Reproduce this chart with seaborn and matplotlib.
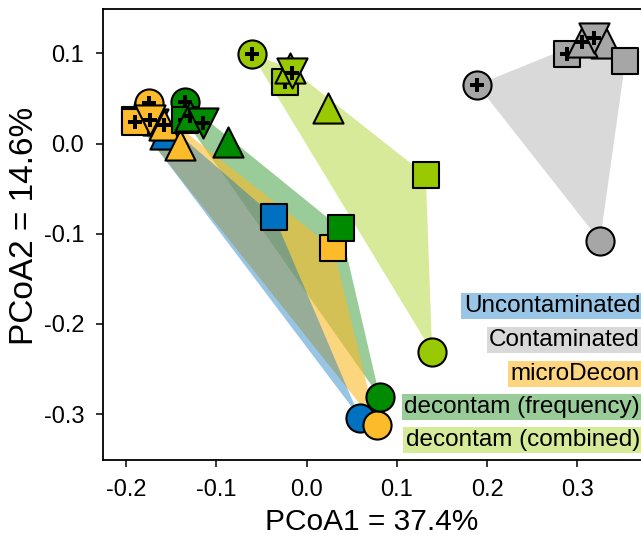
import numpy as np
import pandas as pd
import matplotlib
matplotlib.use("Agg")
import matplotlib.pyplot as plt
import seaborn as sns
from matplotlib import font_manager
from matplotlib.colors import to_rgb

# ---------------- data ----------------
groups = ["Uncontaminated", "Contaminated", "microDecon",
          "decontam (frequency)", "decontam (combined)"]
group_colors = ["#0070C0", "#A0A0A0", "#FBBB2A", "#008000", "#99CC00"]
group_alpha = [0.4, 0.4, 0.6, 0.4, 0.4]
hull_order = ["decontam (combined)", "Contaminated", "decontam (frequency)",
              "microDecon", "Uncontaminated"]

# Uncontaminated
unc_shape = ["circle", "square", "triangle", "invtriangle", "triangle", "square", "circle"]
unc_cross = [True, True, True, True, False, False, False]
unc_x = [-0.176, -0.190, -0.165, -0.170, -0.157, -0.036, 0.059]
unc_y = [0.040, 0.026, 0.026, 0.022, 0.010, -0.081, -0.304]

# Contaminated
con_shape = ["circle", "square", "triangle", "triangle", "invtriangle", "square", "circle"]
con_cross = [True, True, False, True, True, False, False]
con_x = [0.189, 0.288, 0.332, 0.305, 0.318, 0.353, 0.325]
con_y = [0.065, 0.099, 0.111, 0.112, 0.117, 0.091, -0.108]

# microDecon
mic_shape = ["circle", "square", "triangle", "invtriangle", "triangle", "square", "circle"]
mic_cross = [True, True, True, True, False, False, False]
mic_x = [-0.175, -0.190, -0.158, -0.174, -0.140, 0.0295, 0.0775]
mic_y = [0.0445, 0.024, 0.020, 0.026, -0.002, -0.116, -0.312]

# decontam (frequency)
frq_shape = ["circle", "square", "triangle", "invtriangle", "triangle", "square", "circle"]
frq_cross = [True, True, True, True, False, False, False]
frq_x = [-0.135, -0.135, -0.129, -0.1145, -0.087, 0.0376, 0.081]
frq_y = [0.046, 0.026, 0.031, 0.0224, 0.002, -0.094, -0.281]

# decontam (combined)
cmb_shape = ["circle", "square", "triangle", "invtriangle", "triangle", "square", "circle"]
cmb_cross = [True, True, True, True, False, False, False]
cmb_x = [-0.061, -0.024, -0.0185, -0.0166, 0.024, 0.132, 0.139]
cmb_y = [0.099, 0.068, 0.0836, 0.078, 0.039, -0.035, -0.231]

x_ticks = [-0.2, -0.1, 0.0, 0.1, 0.2, 0.3]
y_ticks = [0.1, 0.0, -0.1, -0.2, -0.3]
x_label = "PCoA1 = 37.4%"
y_label = "PCoA2 = 14.6%"

# -------------- build table --------------
frames = []
for g, sh, cr, xs, ys in zip(
        groups,
        [unc_shape, con_shape, mic_shape, frq_shape, cmb_shape],
        [unc_cross, con_cross, mic_cross, frq_cross, cmb_cross],
        [unc_x, con_x, mic_x, frq_x, cmb_x],
        [unc_y, con_y, mic_y, frq_y, cmb_y]):
    frames.append(pd.DataFrame({"group": g, "shape": sh, "cross": cr,
                                "PCoA1": xs, "PCoA2": ys}))
df = pd.concat(frames, ignore_index=True)

# -------------- style --------------
sns.set_style("ticks")
names = {f.name for f in font_manager.fontManager.ttflist}
narrow = "Liberation Sans Narrow" if "Liberation Sans Narrow" in names else "Liberation Sans"
plt.rcParams["font.family"] = [narrow, "Liberation Sans", "DejaVu Sans"]
plt.rcParams["text.color"] = "black"
plt.rcParams["axes.labelcolor"] = "black"
plt.rcParams["xtick.color"] = "black"
plt.rcParams["ytick.color"] = "black"

W, H = 641, 542
fig = plt.figure(figsize=(W / 100, H / 100), dpi=100)
ax = fig.add_axes([103 / W, 1 - 460 / H, 1 - 103 / W, (460 - 9) / H])

palette = dict(zip(groups, group_colors))
alphas = dict(zip(groups, group_alpha))
markers = {"circle": "o", "square": "s", "triangle": "^", "invtriangle": "v"}
sizes = {"circle": 410, "square": 340, "triangle": 470, "invtriangle": 470}
point_colors = {"Uncontaminated": "#0070C0", "Contaminated": "#A6A6A6",
                "microDecon": "#FBBB2A", "decontam (frequency)": "#008A00",
                "decontam (combined)": "#99C900"}


def hull(points):
    pts = sorted(set(points))
    if len(pts) < 3:
        return pts

    def cross(o, a, b):
        return (a[0] - o[0]) * (b[1] - o[1]) - (a[1] - o[1]) * (b[0] - o[0])
    lower, upper = [], []
    for p in pts:
        while len(lower) >= 2 and cross(lower[-2], lower[-1], p) <= 0:
            lower.pop()
        lower.append(p)
    for p in reversed(pts):
        while len(upper) >= 2 and cross(upper[-2], upper[-1], p) <= 0:
            upper.pop()
        upper.append(p)
    return lower[:-1] + upper[:-1]


# hulls
for g in hull_order:
    sub = df[df.group == g]
    hp = hull(list(zip(sub.PCoA1, sub.PCoA2)))
    hx, hy = zip(*hp)
    ax.fill(hx, hy, color=palette[g], alpha=alphas[g], lw=0, zorder=1)

# points, each followed by its cross so that later points cover earlier ones
z = 2
for i in range(len(df)):
    row = df.iloc[[i]]
    sns.scatterplot(data=row, x="PCoA1", y="PCoA2", hue="group", palette=point_colors,
                    style="shape", markers=markers, size="shape", sizes=sizes,
                    edgecolor="black", linewidth=1.5, legend=False, ax=ax)
    ax.collections[-1].set_zorder(z)
    z += 1
    if row["cross"].iloc[0]:
        sns.scatterplot(data=row, x="PCoA1", y="PCoA2", color="black",
                        marker="P", s=115, linewidth=0, legend=False, ax=ax)
        ax.collections[-1].set_zorder(z)
        z += 1

# axes
ax.set_xlim(-0.2257, (W - 306.7) / 902.5)
ax.set_ylim((143.5 - 460) / 902.5, (143.5 - 9) / 902.5)
ax.set_xticks(x_ticks)
ax.set_xticklabels([f"{v:.1f}" for v in x_ticks])
ax.set_yticks(y_ticks)
ax.set_yticklabels([f"{v:.1f}" for v in y_ticks])
ax.tick_params(axis="both", direction="out", length=5, width=1.1, colors="black",
               labelsize=17, pad=8.5)
for s in ["left", "top", "bottom"]:
    ax.spines[s].set_linewidth(1.3)
    ax.spines[s].set_color("black")
ax.spines["right"].set_visible(False)
ax.set_xlabel(x_label, fontsize=21.5, labelpad=5)
ax.set_ylabel(y_label, fontsize=24, family=["Liberation Sans", "DejaVu Sans"])
ax.yaxis.set_label_coords(-0.117, 0.52)

# legend-like labels with coloured boxes
label_y = [306, 340, 374, 407, 440]
for g, py in zip(groups, label_y):
    c = np.array(to_rgb(palette[g]))
    light = 1 - alphas[g] * (1 - c)
    fig.text(640 / W, 1 - py / H, g, ha="right", va="center", fontsize=17.5,
             bbox=dict(boxstyle="square,pad=0.1", fc=light, ec="none"))

fig.savefig("out.png", dpi=100)
